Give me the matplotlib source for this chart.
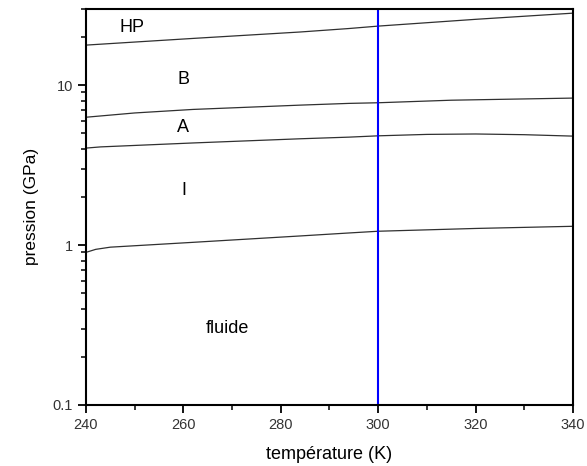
import numpy as np
import matplotlib
matplotlib.use('Agg')
import matplotlib.pyplot as plt
from matplotlib.ticker import FixedLocator, FuncFormatter, LogLocator, MultipleLocator

# --- phase boundaries, temperature (K) vs pressure (GPa)
T_hp = [240, 250, 262, 284, 294, 300, 320, 340]
P_hp = [17.8, 18.6, 19.6, 21.5, 22.6, 23.4, 25.8, 28.2]

T_b = [240, 250, 262, 284, 294, 300, 315, 325, 340]
P_b = [6.3, 6.7, 7.05, 7.5, 7.69, 7.76, 8.05, 8.15, 8.3]

T_a = [240, 243, 262, 284, 294, 300, 310, 320, 330, 340]
P_a = [4.04, 4.11, 4.35, 4.62, 4.73, 4.82, 4.92, 4.95, 4.9, 4.8]

T_f = [240, 242, 245, 262, 284, 294, 300, 320, 340]
P_f = [0.90, 0.94, 0.97, 1.04, 1.14, 1.19, 1.22, 1.27, 1.31]

T_iso = 300

# phase names and where they sit
phase_names = ['HP', 'B', 'A', 'I', 'fluide']
phase_T = [249.5, 260, 260, 260, 269]
phase_P = [23, 10.9, 5.4, 2.2, 0.30]

plt.rcParams['font.family'] = ['Liberation Sans', 'DejaVu Sans']

fig = plt.figure(figsize=(5.87, 4.66), dpi=100)
ax = fig.add_axes([0.1465, 0.131, 0.8295, 0.85])

for T, P in [(T_hp, P_hp), (T_b, P_b), (T_a, P_a), (T_f, P_f)]:
    ax.plot(T, P, color='#303030', lw=0.9)

ax.axvline(T_iso, color='#0000ff', lw=1.5)

for name, t, p in zip(phase_names, phase_T, phase_P):
    ax.text(t, p, name, ha='center', va='center', fontsize=13, color='black')

ax.set_yscale('log')
ax.set_xlim(240, 340)
ax.set_ylim(0.1, 30)

ax.xaxis.set_major_locator(MultipleLocator(20))
ax.xaxis.set_minor_locator(MultipleLocator(10))
ax.yaxis.set_major_locator(FixedLocator([0.1, 1, 10]))
ax.yaxis.set_major_formatter(FuncFormatter(lambda v, pos: '%g' % v))
ax.yaxis.set_minor_locator(LogLocator(base=10, subs=np.arange(2, 10)))
ax.yaxis.set_minor_formatter(FuncFormatter(lambda v, pos: ''))

ax.tick_params(which='major', direction='out', length=6, width=1.3,
               labelsize=10.5, labelcolor='#333333', top=False, right=False)
ax.tick_params(which='minor', direction='out', length=3.5, width=1.1,
               top=False, right=False)

for s in ax.spines.values():
    s.set_linewidth(1.5)

ax.set_xlabel('température (K)', fontsize=13, labelpad=10)
ax.set_ylabel('pression (GPa)', fontsize=12.5, labelpad=10)

fig.savefig('out.png', dpi=100)
